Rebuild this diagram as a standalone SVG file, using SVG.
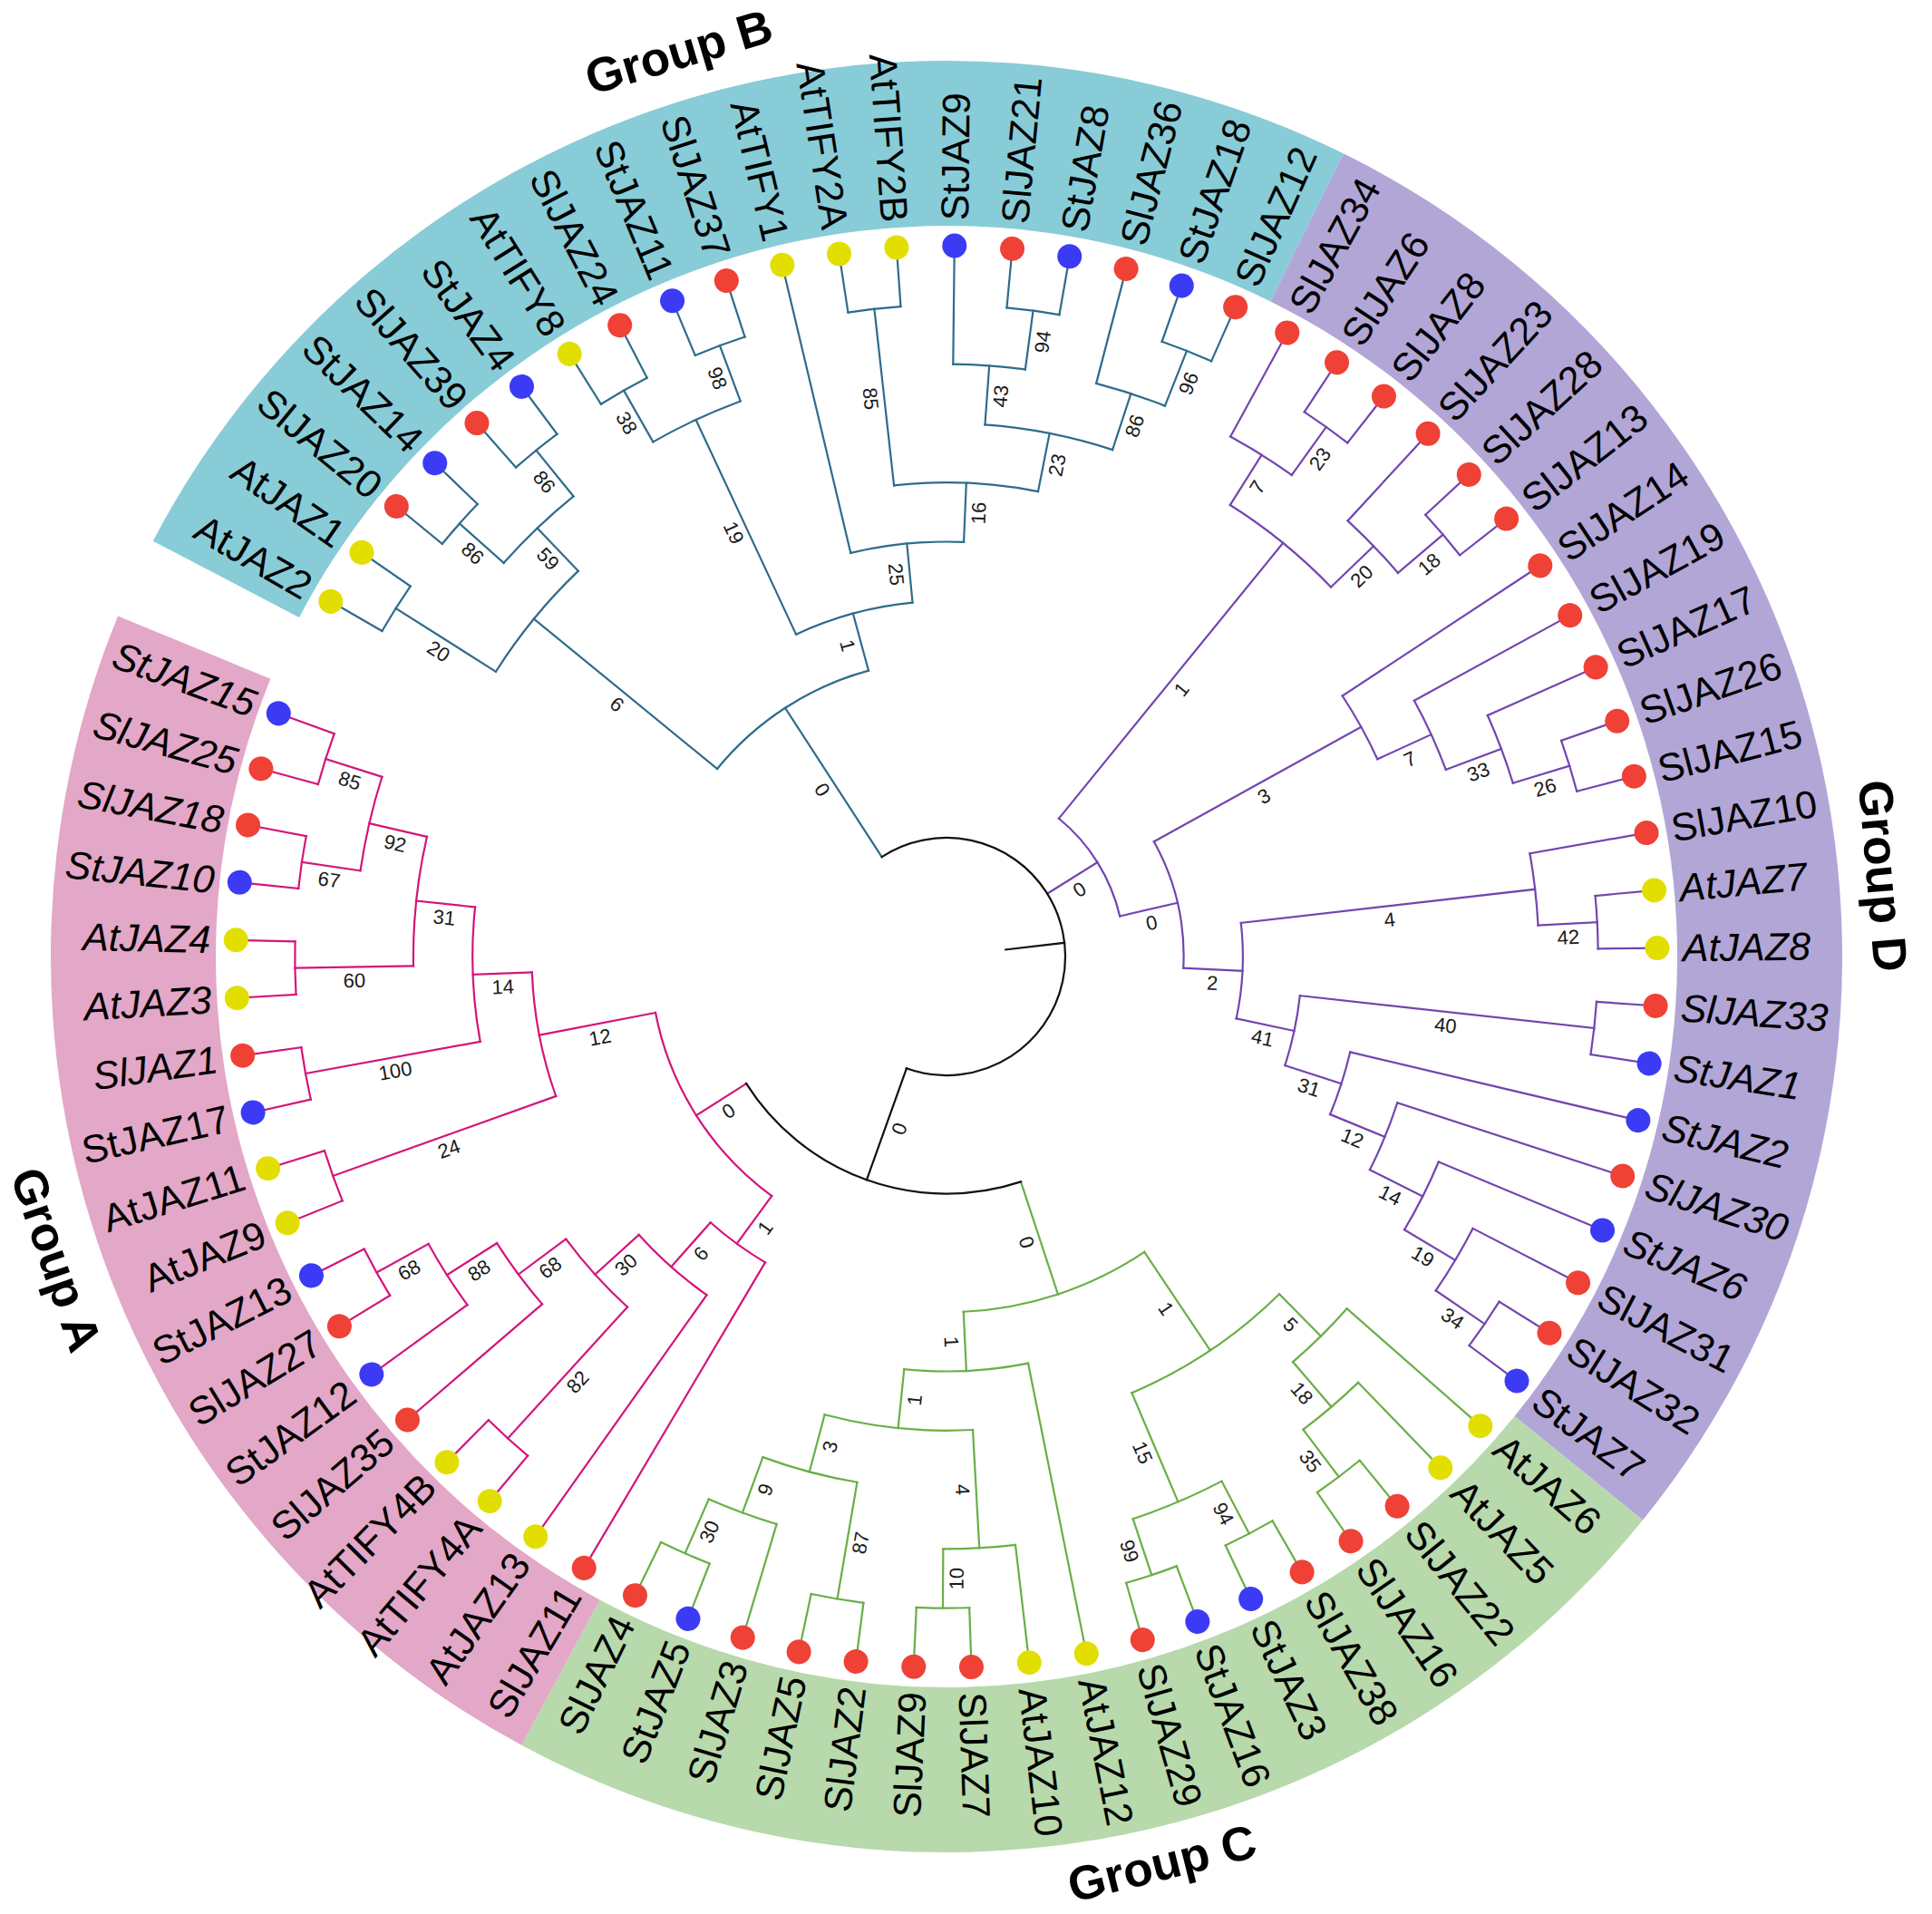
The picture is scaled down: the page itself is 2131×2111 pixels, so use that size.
<svg xmlns="http://www.w3.org/2000/svg" width="2131" height="2111" viewBox="0 0 2131 2111">
<style>
.lbl{font-family:"Liberation Sans",Arial,sans-serif;font-size:43px;fill:#000;dominant-baseline:central}
.e{text-anchor:end}
.it{font-style:italic}
.bs{font-family:"Liberation Sans",Arial,sans-serif;font-size:22px;fill:#1a1a1a;text-anchor:middle;dominant-baseline:central}
.grp{font-family:"Liberation Sans",Arial,sans-serif;font-size:53px;font-weight:bold;fill:#000;text-anchor:middle;dominant-baseline:central}
.sl{fill:#EF4136}.st{fill:#3B3BF6}.at{fill:#E2DF00}
#connectors line,#connectors circle{fill:none;stroke-width:2.2;stroke-linecap:square}
.cB{stroke:#2F6B8C}.cD{stroke:#7345B0}.cC{stroke:#6AAE46}.cA{stroke:#D3157A}.cR{stroke:#111}
</style>
<rect width="2131" height="2111" fill="#fff"/>
<g transform="translate(1044,1055)">
<g id="bands">
<path id="band-B" fill="#88CCD8" d="M-875.25,-458.35 A988,988 0 0 1 437.91,-885.65 L357.24,-722.51 A806,806 0 0 0 -714.02,-373.92 Z"/>
<path id="band-D" fill="#B2A6D7" d="M437.91,-885.65 A988,988 0 0 1 768.04,621.50 L626.56,507.01 A806,806 0 0 0 357.24,-722.51 Z"/>
<path id="band-C" fill="#B7D9AB" d="M768.04,621.50 A988,988 0 0 1 -468.70,869.75 L-382.36,709.53 A806,806 0 0 0 626.56,507.01 Z"/>
<path id="band-A" fill="#E3A7C7" d="M-468.70,869.75 A988,988 0 0 1 -913.91,-375.38 L-745.56,-306.23 A806,806 0 0 0 -382.36,709.53 Z"/>
</g>
<g id="connectors">
<g class="cB">
<line x1="718.7" x2="784" transform="rotate(-150.03)"/>
<line x1="718.7" x2="784" transform="rotate(-145.36)"/>
<line x1="718.7" x2="784" transform="rotate(-140.70)"/>
<line x1="718.7" x2="784" transform="rotate(-136.03)"/>
<line x1="718.7" x2="784" transform="rotate(-131.36)"/>
<line x1="718.7" x2="784" transform="rotate(-126.70)"/>
<line x1="718.7" x2="784" transform="rotate(-122.03)"/>
<line x1="718.7" x2="784" transform="rotate(-117.36)"/>
<line x1="718.7" x2="784" transform="rotate(-112.69)"/>
<line x1="718.7" x2="784" transform="rotate(-108.03)"/>
<line x1="457.5" x2="784" transform="rotate(-103.36)"/>
<line x1="718.7" x2="784" transform="rotate(-98.69)"/>
<line x1="718.7" x2="784" transform="rotate(-94.03)"/>
<line x1="653.4" x2="784" transform="rotate(-89.36)"/>
<line x1="718.7" x2="784" transform="rotate(-84.69)"/>
<line x1="718.7" x2="784" transform="rotate(-80.03)"/>
<line x1="653.4" x2="784" transform="rotate(-75.36)"/>
<line x1="718.7" x2="784" transform="rotate(-70.69)"/>
<line x1="718.7" x2="784" transform="rotate(-66.02)"/>
<circle r="718.7" transform="rotate(-150.03)" stroke-dasharray="58.54 9999"/><line x1="718.7" x2="588.1" transform="rotate(-147.70)"/>
<circle r="718.7" transform="rotate(-140.70)" stroke-dasharray="58.54 9999"/><line x1="718.7" x2="653.4" transform="rotate(-138.36)"/>
<circle r="718.7" transform="rotate(-131.36)" stroke-dasharray="58.54 9999"/><line x1="718.7" x2="653.4" transform="rotate(-129.03)"/>
<circle r="653.4" transform="rotate(-138.36)" stroke-dasharray="106.44 9999"/><line x1="653.4" x2="588.1" transform="rotate(-133.69)"/>
<circle r="588.1" transform="rotate(-147.70)" stroke-dasharray="143.70 9999"/><line x1="588.1" x2="326.9" transform="rotate(-140.70)"/>
<circle r="718.7" transform="rotate(-122.03)" stroke-dasharray="58.54 9999"/><line x1="718.7" x2="653.4" transform="rotate(-119.69)"/>
<circle r="718.7" transform="rotate(-112.69)" stroke-dasharray="58.54 9999"/><line x1="718.7" x2="653.4" transform="rotate(-110.36)"/>
<circle r="653.4" transform="rotate(-119.69)" stroke-dasharray="106.44 9999"/><line x1="653.4" x2="392.2" transform="rotate(-115.03)"/>
<circle r="718.7" transform="rotate(-98.69)" stroke-dasharray="58.54 9999"/><line x1="718.7" x2="522.8" transform="rotate(-96.36)"/>
<circle r="718.7" transform="rotate(-84.69)" stroke-dasharray="58.54 9999"/><line x1="718.7" x2="653.4" transform="rotate(-82.36)"/>
<circle r="653.4" transform="rotate(-89.36)" stroke-dasharray="79.83 9999"/><line x1="653.4" x2="588.1" transform="rotate(-85.86)"/>
<circle r="718.7" transform="rotate(-70.69)" stroke-dasharray="58.54 9999"/><line x1="718.7" x2="653.4" transform="rotate(-68.36)"/>
<circle r="653.4" transform="rotate(-75.36)" stroke-dasharray="79.83 9999"/><line x1="653.4" x2="588.1" transform="rotate(-71.86)"/>
<circle r="588.1" transform="rotate(-85.86)" stroke-dasharray="143.70 9999"/><line x1="588.1" x2="522.8" transform="rotate(-78.86)"/>
<circle r="522.8" transform="rotate(-96.36)" stroke-dasharray="159.68 9999"/><line x1="522.8" x2="457.5" transform="rotate(-87.61)"/>
<circle r="457.5" transform="rotate(-103.36)" stroke-dasharray="125.79 9999"/><line x1="457.5" x2="392.2" transform="rotate(-95.48)"/>
<circle r="392.2" transform="rotate(-115.03)" stroke-dasharray="133.79 9999"/><line x1="392.2" x2="326.9" transform="rotate(-105.25)"/>
<circle r="326.9" transform="rotate(-140.70)" stroke-dasharray="202.23 9999"/><line x1="326.9" x2="131" transform="rotate(-122.98)"/>
</g>
<g class="cD">
<line x1="653.4" x2="784" transform="rotate(-61.36)"/>
<line x1="718.7" x2="784" transform="rotate(-56.69)"/>
<line x1="718.7" x2="784" transform="rotate(-52.02)"/>
<line x1="653.4" x2="784" transform="rotate(-47.36)"/>
<line x1="718.7" x2="784" transform="rotate(-42.69)"/>
<line x1="718.7" x2="784" transform="rotate(-38.02)"/>
<line x1="522.8" x2="784" transform="rotate(-33.36)"/>
<line x1="588.1" x2="784" transform="rotate(-28.69)"/>
<line x1="653.4" x2="784" transform="rotate(-24.02)"/>
<line x1="718.7" x2="784" transform="rotate(-19.35)"/>
<line x1="718.7" x2="784" transform="rotate(-14.69)"/>
<line x1="653.4" x2="784" transform="rotate(-10.02)"/>
<line x1="718.7" x2="784" transform="rotate(-5.35)"/>
<line x1="718.7" x2="784" transform="rotate(-0.69)"/>
<line x1="718.7" x2="784" transform="rotate(3.98)"/>
<line x1="718.7" x2="784" transform="rotate(8.65)"/>
<line x1="457.5" x2="784" transform="rotate(13.32)"/>
<line x1="522.8" x2="784" transform="rotate(17.98)"/>
<line x1="588.1" x2="784" transform="rotate(22.65)"/>
<line x1="653.4" x2="784" transform="rotate(27.32)"/>
<line x1="718.7" x2="784" transform="rotate(31.98)"/>
<line x1="718.7" x2="784" transform="rotate(36.65)"/>
<circle r="718.7" transform="rotate(-56.69)" stroke-dasharray="58.54 9999"/><line x1="718.7" x2="653.4" transform="rotate(-54.36)"/>
<circle r="653.4" transform="rotate(-61.36)" stroke-dasharray="79.83 9999"/><line x1="653.4" x2="588.1" transform="rotate(-57.86)"/>
<circle r="718.7" transform="rotate(-42.69)" stroke-dasharray="58.54 9999"/><line x1="718.7" x2="653.4" transform="rotate(-40.36)"/>
<circle r="653.4" transform="rotate(-47.36)" stroke-dasharray="79.83 9999"/><line x1="653.4" x2="588.1" transform="rotate(-43.86)"/>
<circle r="588.1" transform="rotate(-57.86)" stroke-dasharray="143.70 9999"/><line x1="588.1" x2="196.3" transform="rotate(-50.86)"/>
<circle r="718.7" transform="rotate(-19.35)" stroke-dasharray="58.54 9999"/><line x1="718.7" x2="653.4" transform="rotate(-17.02)"/>
<circle r="653.4" transform="rotate(-24.02)" stroke-dasharray="79.83 9999"/><line x1="653.4" x2="588.1" transform="rotate(-20.52)"/>
<circle r="588.1" transform="rotate(-28.69)" stroke-dasharray="83.83 9999"/><line x1="588.1" x2="522.8" transform="rotate(-24.61)"/>
<circle r="522.8" transform="rotate(-33.36)" stroke-dasharray="79.84 9999"/><line x1="522.8" x2="261.6" transform="rotate(-28.98)"/>
<circle r="718.7" transform="rotate(-5.35)" stroke-dasharray="58.54 9999"/><line x1="718.7" x2="653.4" transform="rotate(-3.02)"/>
<circle r="653.4" transform="rotate(-10.02)" stroke-dasharray="79.83 9999"/><line x1="653.4" x2="326.9" transform="rotate(-6.52)"/>
<circle r="718.7" transform="rotate(3.98)" stroke-dasharray="58.54 9999"/><line x1="718.7" x2="392.2" transform="rotate(6.31)"/>
<circle r="718.7" transform="rotate(31.98)" stroke-dasharray="58.54 9999"/><line x1="718.7" x2="653.4" transform="rotate(34.32)"/>
<circle r="653.4" transform="rotate(27.32)" stroke-dasharray="79.83 9999"/><line x1="653.4" x2="588.1" transform="rotate(30.82)"/>
<circle r="588.1" transform="rotate(22.65)" stroke-dasharray="83.83 9999"/><line x1="588.1" x2="522.8" transform="rotate(26.73)"/>
<circle r="522.8" transform="rotate(17.98)" stroke-dasharray="79.84 9999"/><line x1="522.8" x2="457.5" transform="rotate(22.36)"/>
<circle r="457.5" transform="rotate(13.32)" stroke-dasharray="72.21 9999"/><line x1="457.5" x2="392.2" transform="rotate(17.84)"/>
<circle r="392.2" transform="rotate(6.31)" stroke-dasharray="78.88 9999"/><line x1="392.2" x2="326.9" transform="rotate(12.07)"/>
<circle r="326.9" transform="rotate(-6.52)" stroke-dasharray="106.09 9999"/><line x1="326.9" x2="261.6" transform="rotate(2.78)"/>
<circle r="261.6" transform="rotate(-28.98)" stroke-dasharray="145.00 9999"/><line x1="261.6" x2="196.3" transform="rotate(-13.10)"/>
<circle r="196.3" transform="rotate(-50.86)" stroke-dasharray="129.36 9999"/><line x1="196.3" x2="131" transform="rotate(-31.98)"/>
</g>
<g class="cC">
<line x1="588.1" x2="784" transform="rotate(41.32)"/>
<line x1="653.4" x2="784" transform="rotate(45.98)"/>
<line x1="718.7" x2="784" transform="rotate(50.65)"/>
<line x1="718.7" x2="784" transform="rotate(55.32)"/>
<line x1="718.7" x2="784" transform="rotate(59.99)"/>
<line x1="718.7" x2="784" transform="rotate(64.65)"/>
<line x1="718.7" x2="784" transform="rotate(69.32)"/>
<line x1="718.7" x2="784" transform="rotate(73.99)"/>
<line x1="457.5" x2="784" transform="rotate(78.65)"/>
<line x1="653.4" x2="784" transform="rotate(83.32)"/>
<line x1="718.7" x2="784" transform="rotate(87.99)"/>
<line x1="718.7" x2="784" transform="rotate(92.65)"/>
<line x1="718.7" x2="784" transform="rotate(97.32)"/>
<line x1="718.7" x2="784" transform="rotate(101.99)"/>
<line x1="653.4" x2="784" transform="rotate(106.66)"/>
<line x1="718.7" x2="784" transform="rotate(111.32)"/>
<line x1="718.7" x2="784" transform="rotate(115.99)"/>
<circle r="718.7" transform="rotate(50.65)" stroke-dasharray="58.54 9999"/><line x1="718.7" x2="653.4" transform="rotate(52.98)"/>
<circle r="653.4" transform="rotate(45.98)" stroke-dasharray="79.83 9999"/><line x1="653.4" x2="588.1" transform="rotate(49.48)"/>
<circle r="588.1" transform="rotate(41.32)" stroke-dasharray="83.83 9999"/><line x1="588.1" x2="522.8" transform="rotate(45.40)"/>
<circle r="718.7" transform="rotate(59.99)" stroke-dasharray="58.54 9999"/><line x1="718.7" x2="653.4" transform="rotate(62.32)"/>
<circle r="718.7" transform="rotate(69.32)" stroke-dasharray="58.54 9999"/><line x1="718.7" x2="653.4" transform="rotate(71.65)"/>
<circle r="653.4" transform="rotate(62.32)" stroke-dasharray="106.44 9999"/><line x1="653.4" x2="522.8" transform="rotate(66.99)"/>
<circle r="522.8" transform="rotate(45.40)" stroke-dasharray="196.93 9999"/><line x1="522.8" x2="392.2" transform="rotate(56.19)"/>
<circle r="718.7" transform="rotate(87.99)" stroke-dasharray="58.54 9999"/><line x1="718.7" x2="653.4" transform="rotate(90.32)"/>
<circle r="653.4" transform="rotate(83.32)" stroke-dasharray="79.83 9999"/><line x1="653.4" x2="522.8" transform="rotate(86.82)"/>
<circle r="718.7" transform="rotate(97.32)" stroke-dasharray="58.54 9999"/><line x1="718.7" x2="588.1" transform="rotate(99.65)"/>
<circle r="718.7" transform="rotate(111.32)" stroke-dasharray="58.54 9999"/><line x1="718.7" x2="653.4" transform="rotate(113.66)"/>
<circle r="653.4" transform="rotate(106.66)" stroke-dasharray="79.83 9999"/><line x1="653.4" x2="588.1" transform="rotate(110.15)"/>
<circle r="588.1" transform="rotate(99.65)" stroke-dasharray="107.78 9999"/><line x1="588.1" x2="522.8" transform="rotate(104.90)"/>
<circle r="522.8" transform="rotate(86.82)" stroke-dasharray="165.00 9999"/><line x1="522.8" x2="457.5" transform="rotate(95.86)"/>
<circle r="457.5" transform="rotate(78.65)" stroke-dasharray="137.43 9999"/><line x1="457.5" x2="392.2" transform="rotate(87.26)"/>
<circle r="392.2" transform="rotate(56.19)" stroke-dasharray="212.67 9999"/><line x1="392.2" x2="261.6" transform="rotate(71.73)"/>
</g>
<g class="cA">
<line x1="392.2" x2="784" transform="rotate(120.66)"/>
<line x1="457.5" x2="784" transform="rotate(125.32)"/>
<line x1="718.7" x2="784" transform="rotate(129.99)"/>
<line x1="718.7" x2="784" transform="rotate(134.66)"/>
<line x1="588.1" x2="784" transform="rotate(139.32)"/>
<line x1="653.4" x2="784" transform="rotate(143.99)"/>
<line x1="718.7" x2="784" transform="rotate(148.66)"/>
<line x1="718.7" x2="784" transform="rotate(153.33)"/>
<line x1="718.7" x2="784" transform="rotate(157.99)"/>
<line x1="718.7" x2="784" transform="rotate(162.66)"/>
<line x1="718.7" x2="784" transform="rotate(167.33)"/>
<line x1="718.7" x2="784" transform="rotate(171.99)"/>
<line x1="718.7" x2="784" transform="rotate(176.66)"/>
<line x1="718.7" x2="784" transform="rotate(181.33)"/>
<line x1="718.7" x2="784" transform="rotate(185.99)"/>
<line x1="718.7" x2="784" transform="rotate(190.66)"/>
<line x1="718.7" x2="784" transform="rotate(195.33)"/>
<line x1="718.7" x2="784" transform="rotate(200.00)"/>
<circle r="718.7" transform="rotate(148.66)" stroke-dasharray="58.54 9999"/><line x1="718.7" x2="653.4" transform="rotate(150.99)"/>
<circle r="653.4" transform="rotate(143.99)" stroke-dasharray="79.83 9999"/><line x1="653.4" x2="588.1" transform="rotate(147.49)"/>
<circle r="588.1" transform="rotate(139.32)" stroke-dasharray="83.83 9999"/><line x1="588.1" x2="522.8" transform="rotate(143.41)"/>
<circle r="718.7" transform="rotate(129.99)" stroke-dasharray="58.54 9999"/><line x1="718.7" x2="522.8" transform="rotate(132.32)"/>
<circle r="522.8" transform="rotate(132.32)" stroke-dasharray="101.13 9999"/><line x1="522.8" x2="457.5" transform="rotate(137.87)"/>
<circle r="457.5" transform="rotate(125.32)" stroke-dasharray="100.16 9999"/><line x1="457.5" x2="392.2" transform="rotate(131.59)"/>
<circle r="392.2" transform="rotate(120.66)" stroke-dasharray="74.88 9999"/><line x1="392.2" x2="326.9" transform="rotate(126.13)"/>
<circle r="718.7" transform="rotate(195.33)" stroke-dasharray="58.54 9999"/><line x1="718.7" x2="653.4" transform="rotate(197.66)"/>
<circle r="718.7" transform="rotate(185.99)" stroke-dasharray="58.54 9999"/><line x1="718.7" x2="653.4" transform="rotate(188.33)"/>
<circle r="653.4" transform="rotate(188.33)" stroke-dasharray="106.44 9999"/><line x1="653.4" x2="588.1" transform="rotate(192.99)"/>
<circle r="718.7" transform="rotate(176.66)" stroke-dasharray="58.54 9999"/><line x1="718.7" x2="588.1" transform="rotate(178.99)"/>
<circle r="588.1" transform="rotate(178.99)" stroke-dasharray="143.70 9999"/><line x1="588.1" x2="522.8" transform="rotate(185.99)"/>
<circle r="718.7" transform="rotate(167.33)" stroke-dasharray="58.54 9999"/><line x1="718.7" x2="522.8" transform="rotate(169.66)"/>
<circle r="522.8" transform="rotate(169.66)" stroke-dasharray="149.03 9999"/><line x1="522.8" x2="457.5" transform="rotate(177.83)"/>
<circle r="718.7" transform="rotate(157.99)" stroke-dasharray="58.54 9999"/><line x1="718.7" x2="457.5" transform="rotate(160.33)"/>
<circle r="457.5" transform="rotate(160.33)" stroke-dasharray="139.76 9999"/><line x1="457.5" x2="326.9" transform="rotate(169.08)"/>
<circle r="326.9" transform="rotate(126.13)" stroke-dasharray="245.08 9999"/><line x1="326.9" x2="261.6" transform="rotate(147.60)"/>
</g>
<g class="cR">
<circle r="261.6" transform="rotate(71.73)" stroke-dasharray="346.44 9999"/><line x1="261.6" x2="131" transform="rotate(109.67)"/>
<circle r="131" transform="rotate(-122.98)" stroke-dasharray="531.9 9999"/><line x1="131" x2="65.7" transform="rotate(-6.66)"/>
</g>
</g>
<g id="bootstrap" class="bs">
<text transform="rotate(32.30)" x="-653.4" y="15">20</text>
<text transform="rotate(41.64)" x="-686.05" y="15">86</text>
<text transform="rotate(50.97)" x="-686.05" y="15">86</text>
<text transform="rotate(46.31)" x="-620.75" y="15">59</text>
<text transform="rotate(39.30)" x="-457.5" y="15">6</text>
<text transform="rotate(60.31)" x="-686.05" y="15">38</text>
<text transform="rotate(69.64)" x="-686.05" y="15">98</text>
<text transform="rotate(64.97)" x="-522.8" y="15">19</text>
<text transform="rotate(83.64)" x="-620.75" y="15">85</text>
<text transform="rotate(84.52)" x="-424.85" y="15">25</text>
<text transform="rotate(74.75)" x="-359.55" y="15">1</text>
<text transform="rotate(57.02)" x="-228.95" y="15">0</text>
<text transform="rotate(-82.36)" x="686.05" y="15">94</text>
<text transform="rotate(-85.86)" x="620.75" y="15">43</text>
<text transform="rotate(-68.36)" x="686.05" y="15">96</text>
<text transform="rotate(-71.86)" x="620.75" y="15">86</text>
<text transform="rotate(-78.86)" x="555.45" y="15">23</text>
<text transform="rotate(-87.61)" x="490.15" y="15">16</text>
<text transform="rotate(-54.36)" x="686.05" y="15">23</text>
<text transform="rotate(-57.86)" x="620.75" y="15">7</text>
<text transform="rotate(-40.36)" x="686.05" y="15">18</text>
<text transform="rotate(-43.86)" x="620.75" y="15">20</text>
<text transform="rotate(-50.86)" x="392.2" y="15">1</text>
<text transform="rotate(-17.02)" x="686.05" y="15">26</text>
<text transform="rotate(-20.52)" x="620.75" y="15">33</text>
<text transform="rotate(-24.61)" x="555.45" y="15">7</text>
<text transform="rotate(-28.98)" x="392.2" y="15">3</text>
<text transform="rotate(-3.02)" x="686.05" y="15">42</text>
<text transform="rotate(-6.52)" x="490.15" y="15">4</text>
<text transform="rotate(6.31)" x="555.45" y="15">40</text>
<text transform="rotate(34.32)" x="686.05" y="15">34</text>
<text transform="rotate(30.82)" x="620.75" y="15">19</text>
<text transform="rotate(26.73)" x="555.45" y="15">14</text>
<text transform="rotate(22.36)" x="490.15" y="15">12</text>
<text transform="rotate(17.84)" x="424.85" y="15">31</text>
<text transform="rotate(12.07)" x="359.55" y="15">41</text>
<text transform="rotate(2.78)" x="294.25" y="15">2</text>
<text transform="rotate(-13.10)" x="228.95" y="15">0</text>
<text transform="rotate(-31.98)" x="163.65" y="15">0</text>
<text transform="rotate(52.98)" x="686.05" y="15">35</text>
<text transform="rotate(49.48)" x="620.75" y="15">18</text>
<text transform="rotate(45.40)" x="555.45" y="15">5</text>
<text transform="rotate(62.32)" x="686.05" y="15">94</text>
<text transform="rotate(71.65)" x="686.05" y="15">99</text>
<text transform="rotate(66.99)" x="588.1" y="15">15</text>
<text transform="rotate(56.19)" x="457.5" y="15">1</text>
<text transform="rotate(86.82)" x="588.1" y="15">4</text>
<text transform="rotate(87.26)" x="424.85" y="15">1</text>
<text transform="rotate(71.73)" x="326.9" y="15">0</text>
<text transform="rotate(-89.68)" x="-686.05" y="15">10</text>
<text transform="rotate(-80.35)" x="-653.4" y="15">87</text>
<text transform="rotate(-66.34)" x="-686.05" y="15">30</text>
<text transform="rotate(-69.85)" x="-620.75" y="15">9</text>
<text transform="rotate(-75.10)" x="-555.45" y="15">3</text>
<text transform="rotate(-84.14)" x="-490.15" y="15">1</text>
<text transform="rotate(-29.01)" x="-686.05" y="15">68</text>
<text transform="rotate(-32.51)" x="-620.75" y="15">88</text>
<text transform="rotate(-36.59)" x="-555.45" y="15">68</text>
<text transform="rotate(-47.68)" x="-620.75" y="15">82</text>
<text transform="rotate(-42.13)" x="-490.15" y="15">30</text>
<text transform="rotate(-48.41)" x="-424.85" y="15">6</text>
<text transform="rotate(-53.87)" x="-359.55" y="15">1</text>
<text transform="rotate(17.66)" x="-686.05" y="15">85</text>
<text transform="rotate(8.33)" x="-686.05" y="15">67</text>
<text transform="rotate(12.99)" x="-620.75" y="15">92</text>
<text transform="rotate(-1.01)" x="-653.4" y="15">60</text>
<text transform="rotate(5.99)" x="-555.45" y="15">31</text>
<text transform="rotate(-10.34)" x="-620.75" y="15">100</text>
<text transform="rotate(-2.17)" x="-490.15" y="15">14</text>
<text transform="rotate(-19.67)" x="-588.1" y="15">24</text>
<text transform="rotate(-10.92)" x="-392.2" y="15">12</text>
<text transform="rotate(-32.40)" x="-294.25" y="15">0</text>
<text transform="rotate(-70.33)" x="-196.3" y="15">0</text>
</g>
<g id="leaves">
<g id="leaf-AtJAZ2" transform="rotate(-150.03)"><circle class="at" cx="784" r="13.5"/><text class="lbl e" x="-812" transform="rotate(180)">AtJAZ2</text></g>
<g id="leaf-AtJAZ1" transform="rotate(-145.36)"><circle class="at" cx="784" r="13.5"/><text class="lbl e" x="-812" transform="rotate(180)">AtJAZ1</text></g>
<g id="leaf-SlJAZ20" transform="rotate(-140.70)"><circle class="sl" cx="784" r="13.5"/><text class="lbl e" x="-812" transform="rotate(180)">SlJAZ20</text></g>
<g id="leaf-StJAZ14" transform="rotate(-136.03)"><circle class="st" cx="784" r="13.5"/><text class="lbl e" x="-812" transform="rotate(180)">StJAZ14</text></g>
<g id="leaf-SlJAZ39" transform="rotate(-131.36)"><circle class="sl" cx="784" r="13.5"/><text class="lbl e" x="-812" transform="rotate(180)">SlJAZ39</text></g>
<g id="leaf-StJAZ4" transform="rotate(-126.70)"><circle class="st" cx="784" r="13.5"/><text class="lbl e" x="-812" transform="rotate(180)">StJAZ4</text></g>
<g id="leaf-AtTIFY8" transform="rotate(-122.03)"><circle class="at" cx="784" r="13.5"/><text class="lbl e" x="-812" transform="rotate(180)">AtTIFY8</text></g>
<g id="leaf-SlJAZ24" transform="rotate(-117.36)"><circle class="sl" cx="784" r="13.5"/><text class="lbl e" x="-812" transform="rotate(180)">SlJAZ24</text></g>
<g id="leaf-StJAZ11" transform="rotate(-112.69)"><circle class="st" cx="784" r="13.5"/><text class="lbl e" x="-812" transform="rotate(180)">StJAZ11</text></g>
<g id="leaf-SlJAZ37" transform="rotate(-108.03)"><circle class="sl" cx="784" r="13.5"/><text class="lbl e" x="-812" transform="rotate(180)">SlJAZ37</text></g>
<g id="leaf-AtTIFY1" transform="rotate(-103.36)"><circle class="at" cx="784" r="13.5"/><text class="lbl e" x="-812" transform="rotate(180)">AtTIFY1</text></g>
<g id="leaf-AtTIFY2A" transform="rotate(-98.69)"><circle class="at" cx="784" r="13.5"/><text class="lbl e" x="-812" transform="rotate(180)">AtTIFY2A</text></g>
<g id="leaf-AtTIFY2B" transform="rotate(-94.03)"><circle class="at" cx="784" r="13.5"/><text class="lbl e" x="-812" transform="rotate(180)">AtTIFY2B</text></g>
<g id="leaf-StJAZ9" transform="rotate(-89.36)"><circle class="st" cx="784" r="13.5"/><text class="lbl" x="812">StJAZ9</text></g>
<g id="leaf-SlJAZ21" transform="rotate(-84.69)"><circle class="sl" cx="784" r="13.5"/><text class="lbl" x="812">SlJAZ21</text></g>
<g id="leaf-StJAZ8" transform="rotate(-80.03)"><circle class="st" cx="784" r="13.5"/><text class="lbl" x="812">StJAZ8</text></g>
<g id="leaf-SlJAZ36" transform="rotate(-75.36)"><circle class="sl" cx="784" r="13.5"/><text class="lbl" x="812">SlJAZ36</text></g>
<g id="leaf-StJAZ18" transform="rotate(-70.69)"><circle class="st" cx="784" r="13.5"/><text class="lbl" x="812">StJAZ18</text></g>
<g id="leaf-SlJAZ12" transform="rotate(-66.02)"><circle class="sl" cx="784" r="13.5"/><text class="lbl" x="812">SlJAZ12</text></g>
<g id="leaf-SlJAZ34" transform="rotate(-61.36)"><circle class="sl" cx="784" r="13.5"/><text class="lbl" x="812">SlJAZ34</text></g>
<g id="leaf-SlJAZ6" transform="rotate(-56.69)"><circle class="sl" cx="784" r="13.5"/><text class="lbl" x="812">SlJAZ6</text></g>
<g id="leaf-SlJAZ8" transform="rotate(-52.02)"><circle class="sl" cx="784" r="13.5"/><text class="lbl" x="812">SlJAZ8</text></g>
<g id="leaf-SlJAZ23" transform="rotate(-47.36)"><circle class="sl" cx="784" r="13.5"/><text class="lbl" x="812">SlJAZ23</text></g>
<g id="leaf-SlJAZ28" transform="rotate(-42.69)"><circle class="sl" cx="784" r="13.5"/><text class="lbl" x="812">SlJAZ28</text></g>
<g id="leaf-SlJAZ13" transform="rotate(-38.02)"><circle class="sl" cx="784" r="13.5"/><text class="lbl" x="812">SlJAZ13</text></g>
<g id="leaf-SlJAZ14" transform="rotate(-33.36)"><circle class="sl" cx="784" r="13.5"/><text class="lbl" x="812">SlJAZ14</text></g>
<g id="leaf-SlJAZ19" transform="rotate(-28.69)"><circle class="sl" cx="784" r="13.5"/><text class="lbl" x="812">SlJAZ19</text></g>
<g id="leaf-SlJAZ17" transform="rotate(-24.02)"><circle class="sl" cx="784" r="13.5"/><text class="lbl" x="812">SlJAZ17</text></g>
<g id="leaf-SlJAZ26" transform="rotate(-19.35)"><circle class="sl" cx="784" r="13.5"/><text class="lbl" x="812">SlJAZ26</text></g>
<g id="leaf-SlJAZ15" transform="rotate(-14.69)"><circle class="sl" cx="784" r="13.5"/><text class="lbl" x="812">SlJAZ15</text></g>
<g id="leaf-SlJAZ10" transform="rotate(-10.02)"><circle class="sl" cx="784" r="13.5"/><text class="lbl" x="812">SlJAZ10</text></g>
<g id="leaf-AtJAZ7" transform="rotate(-5.35)"><circle class="at" cx="784" r="13.5"/><text class="lbl it" x="812">AtJAZ7</text></g>
<g id="leaf-AtJAZ8" transform="rotate(-0.69)"><circle class="at" cx="784" r="13.5"/><text class="lbl it" x="812">AtJAZ8</text></g>
<g id="leaf-SlJAZ33" transform="rotate(3.98)"><circle class="sl" cx="784" r="13.5"/><text class="lbl it" x="812">SlJAZ33</text></g>
<g id="leaf-StJAZ1" transform="rotate(8.65)"><circle class="st" cx="784" r="13.5"/><text class="lbl it" x="812">StJAZ1</text></g>
<g id="leaf-StJAZ2" transform="rotate(13.32)"><circle class="st" cx="784" r="13.5"/><text class="lbl it" x="812">StJAZ2</text></g>
<g id="leaf-SlJAZ30" transform="rotate(17.98)"><circle class="sl" cx="784" r="13.5"/><text class="lbl it" x="812">SlJAZ30</text></g>
<g id="leaf-StJAZ6" transform="rotate(22.65)"><circle class="st" cx="784" r="13.5"/><text class="lbl it" x="812">StJAZ6</text></g>
<g id="leaf-SlJAZ31" transform="rotate(27.32)"><circle class="sl" cx="784" r="13.5"/><text class="lbl" x="812">SlJAZ31</text></g>
<g id="leaf-SlJAZ32" transform="rotate(31.98)"><circle class="sl" cx="784" r="13.5"/><text class="lbl" x="812">SlJAZ32</text></g>
<g id="leaf-StJAZ7" transform="rotate(36.65)"><circle class="st" cx="784" r="13.5"/><text class="lbl" x="812">StJAZ7</text></g>
<g id="leaf-AtJAZ6" transform="rotate(41.32)"><circle class="at" cx="784" r="13.5"/><text class="lbl" x="812">AtJAZ6</text></g>
<g id="leaf-AtJAZ5" transform="rotate(45.98)"><circle class="at" cx="784" r="13.5"/><text class="lbl" x="812">AtJAZ5</text></g>
<g id="leaf-SlJAZ22" transform="rotate(50.65)"><circle class="sl" cx="784" r="13.5"/><text class="lbl" x="812">SlJAZ22</text></g>
<g id="leaf-SlJAZ16" transform="rotate(55.32)"><circle class="sl" cx="784" r="13.5"/><text class="lbl" x="812">SlJAZ16</text></g>
<g id="leaf-SlJAZ38" transform="rotate(59.99)"><circle class="sl" cx="784" r="13.5"/><text class="lbl" x="812">SlJAZ38</text></g>
<g id="leaf-StJAZ3" transform="rotate(64.65)"><circle class="st" cx="784" r="13.5"/><text class="lbl" x="812">StJAZ3</text></g>
<g id="leaf-StJAZ16" transform="rotate(69.32)"><circle class="st" cx="784" r="13.5"/><text class="lbl" x="812">StJAZ16</text></g>
<g id="leaf-SlJAZ29" transform="rotate(73.99)"><circle class="sl" cx="784" r="13.5"/><text class="lbl" x="812">SlJAZ29</text></g>
<g id="leaf-AtJAZ12" transform="rotate(78.65)"><circle class="at" cx="784" r="13.5"/><text class="lbl" x="812">AtJAZ12</text></g>
<g id="leaf-AtJAZ10" transform="rotate(83.32)"><circle class="at" cx="784" r="13.5"/><text class="lbl" x="812">AtJAZ10</text></g>
<g id="leaf-SlJAZ7" transform="rotate(87.99)"><circle class="sl" cx="784" r="13.5"/><text class="lbl" x="812">SlJAZ7</text></g>
<g id="leaf-SlJAZ9" transform="rotate(92.65)"><circle class="sl" cx="784" r="13.5"/><text class="lbl e" x="-812" transform="rotate(180)">SlJAZ9</text></g>
<g id="leaf-SlJAZ2" transform="rotate(97.32)"><circle class="sl" cx="784" r="13.5"/><text class="lbl e" x="-812" transform="rotate(180)">SlJAZ2</text></g>
<g id="leaf-SlJAZ5" transform="rotate(101.99)"><circle class="sl" cx="784" r="13.5"/><text class="lbl e" x="-812" transform="rotate(180)">SlJAZ5</text></g>
<g id="leaf-SlJAZ3" transform="rotate(106.66)"><circle class="sl" cx="784" r="13.5"/><text class="lbl e" x="-812" transform="rotate(180)">SlJAZ3</text></g>
<g id="leaf-StJAZ5" transform="rotate(111.32)"><circle class="st" cx="784" r="13.5"/><text class="lbl e" x="-812" transform="rotate(180)">StJAZ5</text></g>
<g id="leaf-SlJAZ4" transform="rotate(115.99)"><circle class="sl" cx="784" r="13.5"/><text class="lbl e" x="-812" transform="rotate(180)">SlJAZ4</text></g>
<g id="leaf-SlJAZ11" transform="rotate(120.66)"><circle class="sl" cx="784" r="13.5"/><text class="lbl e" x="-812" transform="rotate(180)">SlJAZ11</text></g>
<g id="leaf-AtJAZ13" transform="rotate(125.32)"><circle class="at" cx="784" r="13.5"/><text class="lbl e" x="-812" transform="rotate(180)">AtJAZ13</text></g>
<g id="leaf-AtTIFY4A" transform="rotate(129.99)"><circle class="at" cx="784" r="13.5"/><text class="lbl e" x="-812" transform="rotate(180)">AtTIFY4A</text></g>
<g id="leaf-AtTIFY4B" transform="rotate(134.66)"><circle class="at" cx="784" r="13.5"/><text class="lbl e" x="-812" transform="rotate(180)">AtTIFY4B</text></g>
<g id="leaf-SlJAZ35" transform="rotate(139.32)"><circle class="sl" cx="784" r="13.5"/><text class="lbl e" x="-812" transform="rotate(180)">SlJAZ35</text></g>
<g id="leaf-StJAZ12" transform="rotate(143.99)"><circle class="st" cx="784" r="13.5"/><text class="lbl e" x="-812" transform="rotate(180)">StJAZ12</text></g>
<g id="leaf-SlJAZ27" transform="rotate(148.66)"><circle class="sl" cx="784" r="13.5"/><text class="lbl e" x="-812" transform="rotate(180)">SlJAZ27</text></g>
<g id="leaf-StJAZ13" transform="rotate(153.33)"><circle class="st" cx="784" r="13.5"/><text class="lbl e" x="-812" transform="rotate(180)">StJAZ13</text></g>
<g id="leaf-AtJAZ9" transform="rotate(157.99)"><circle class="at" cx="784" r="13.5"/><text class="lbl e" x="-812" transform="rotate(180)">AtJAZ9</text></g>
<g id="leaf-AtJAZ11" transform="rotate(162.66)"><circle class="at" cx="784" r="13.5"/><text class="lbl e" x="-812" transform="rotate(180)">AtJAZ11</text></g>
<g id="leaf-StJAZ17" transform="rotate(167.33)"><circle class="st" cx="784" r="13.5"/><text class="lbl e" x="-812" transform="rotate(180)">StJAZ17</text></g>
<g id="leaf-SlJAZ1" transform="rotate(171.99)"><circle class="sl" cx="784" r="13.5"/><text class="lbl e it" x="-812" transform="rotate(180)">SlJAZ1</text></g>
<g id="leaf-AtJAZ3" transform="rotate(176.66)"><circle class="at" cx="784" r="13.5"/><text class="lbl e it" x="-812" transform="rotate(180)">AtJAZ3</text></g>
<g id="leaf-AtJAZ4" transform="rotate(181.33)"><circle class="at" cx="784" r="13.5"/><text class="lbl e it" x="-812" transform="rotate(180)">AtJAZ4</text></g>
<g id="leaf-StJAZ10" transform="rotate(185.99)"><circle class="st" cx="784" r="13.5"/><text class="lbl e it" x="-812" transform="rotate(180)">StJAZ10</text></g>
<g id="leaf-SlJAZ18" transform="rotate(190.66)"><circle class="sl" cx="784" r="13.5"/><text class="lbl e it" x="-812" transform="rotate(180)">SlJAZ18</text></g>
<g id="leaf-SlJAZ25" transform="rotate(195.33)"><circle class="sl" cx="784" r="13.5"/><text class="lbl e it" x="-812" transform="rotate(180)">SlJAZ25</text></g>
<g id="leaf-StJAZ15" transform="rotate(200.00)"><circle class="st" cx="784" r="13.5"/><text class="lbl e it" x="-812" transform="rotate(180)">StJAZ15</text></g>
</g>
</g>
<g id="group-labels" class="grp">
<text id="label-group-B" transform="translate(748.5,57) rotate(-16.5)">Group B</text>
<text id="label-group-D" transform="translate(2077.2,965.9) rotate(85.07)">Group D</text>
<text id="label-group-C" transform="translate(1281.5,2055) rotate(-14)">Group C</text>
<text id="label-group-A" transform="translate(62.3,1389.2) rotate(71.2)">Group A</text>
</g>
</svg>
